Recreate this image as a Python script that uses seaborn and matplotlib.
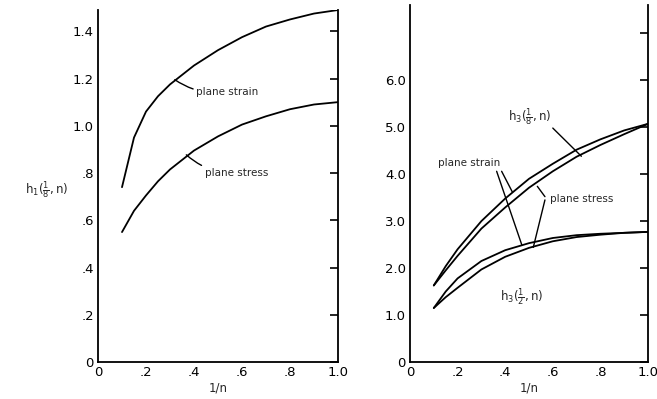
import matplotlib
matplotlib.use("Agg")
import matplotlib.pyplot as plt
import seaborn as sns
import pandas as pd

# ---- data ----
left_x = [0.1, 0.15, 0.2, 0.25, 0.3, 0.4, 0.5, 0.6, 0.7, 0.8, 0.9, 1.0]
left_plane_strain = [0.74, 0.95, 1.06, 1.125, 1.175, 1.255, 1.32, 1.375, 1.42, 1.45, 1.475, 1.49]
left_plane_stress = [0.55, 0.64, 0.705, 0.765, 0.815, 0.895, 0.955, 1.005, 1.04, 1.07, 1.09, 1.10]

right_x = [0.1, 0.15, 0.2, 0.3, 0.4, 0.5, 0.6, 0.7, 0.8, 0.9, 1.0]
h8_strain = [1.63, 2.04, 2.40, 3.00, 3.48, 3.90, 4.22, 4.52, 4.74, 4.93, 5.07]
h8_stress = [1.63, 1.95, 2.26, 2.84, 3.29, 3.71, 4.06, 4.37, 4.62, 4.85, 5.07]
h2_strain = [1.15, 1.50, 1.78, 2.15, 2.38, 2.53, 2.64, 2.70, 2.73, 2.75, 2.77]
h2_stress = [1.15, 1.38, 1.58, 1.97, 2.24, 2.43, 2.57, 2.66, 2.71, 2.75, 2.77]

x_ticks = [0, 0.2, 0.4, 0.6, 0.8, 1.0]
x_ticklabels = ["0", ".2", ".4", ".6", ".8", "1.0"]
left_y_ticks = [0, 0.2, 0.4, 0.6, 0.8, 1.0, 1.2, 1.4]
left_y_ticklabels = ["0", ".2", ".4", ".6", ".8", "1.0", "1.2", "1.4"]
right_y_ticks = [0, 1, 2, 3, 4, 5, 6, 7]
right_y_ticklabels = ["0", "1.0", "2.0", "3.0", "4.0", "5.0", "6.0", ""]

sns.set_style("white")
plt.rcParams["font.family"] = ["DejaVu Sans"]

fig = plt.figure(figsize=(6.57, 3.99), dpi=100)
ax1 = fig.add_axes([98/657, 1-362/399, 240/657, 352/399])
ax2 = fig.add_axes([410/657, 1-362/399, 238/657, 357/399])

lw = 1.3
df_left = pd.DataFrame({"x": left_x, "strain": left_plane_strain, "stress": left_plane_stress})
sns.lineplot(data=df_left, x="x", y="strain", ax=ax1, color="black", lw=lw, estimator=None, sort=False)
sns.lineplot(data=df_left, x="x", y="stress", ax=ax1, color="black", lw=lw, estimator=None, sort=False)

df_right = pd.DataFrame({"x": right_x, "a": h8_strain, "b": h8_stress, "c": h2_strain, "d": h2_stress})
for col in ["a", "b", "c", "d"]:
    sns.lineplot(data=df_right, x="x", y=col, ax=ax2, color="black", lw=lw, estimator=None, sort=False)

for ax, yt, ytl, ymax in [(ax1, left_y_ticks, left_y_ticklabels, 1.49),
                          (ax2, right_y_ticks, right_y_ticklabels, 7.6)]:
    ax.set_xlim(0, 1.0)
    ax.set_ylim(0, ymax)
    ax.set_xticks(x_ticks)
    ax.set_xticklabels(x_ticklabels)
    ax.set_yticks(yt)
    ax.set_yticklabels(ytl)
    ax.tick_params(direction="in", length=6, width=1.2, right=True, top=False,
                   labelright=False, labelsize=9.5, pad=3, colors="black")
    ax.spines["top"].set_visible(False)
    for s in ["left", "right", "bottom"]:
        ax.spines[s].set_linewidth(1.3)
        ax.spines[s].set_color("black")
    ax.set_xlabel("1/n", fontsize=8.5, labelpad=2)
    ax.set_ylabel("")

arrow = dict(arrowstyle="-", color="black", lw=1.0, shrinkA=0, shrinkB=0)
fs = 7.5
ax1.annotate("plane strain", xy=(0.32, 1.195), xytext=(0.41, 1.145), fontsize=fs,
             va="center", ha="left", arrowprops=dict(arrow, connectionstyle="arc3,rad=-0.2"))
ax1.annotate("plane stress", xy=(0.368, 0.877), xytext=(0.445, 0.80), fontsize=fs,
             va="center", ha="left", arrowprops=dict(arrow, connectionstyle="arc3,rad=-0.2"))

ax2.text(0.504, 5.21, r"$\mathsf{h_3(\frac{1}{8},n)}$", fontsize=8.5, ha="center", va="center")
ax2.annotate("", xy=(0.72, 4.38), xytext=(0.60, 4.98), arrowprops=arrow)
ax2.text(0.118, 4.24, "plane strain", fontsize=fs, ha="left", va="center")
ax2.annotate("", xy=(0.43, 3.62), xytext=(0.385, 4.06), arrowprops=arrow)
ax2.annotate("", xy=(0.47, 2.49), xytext=(0.364, 4.06), arrowprops=arrow)
ax2.text(0.59, 3.47, "plane stress", fontsize=fs, ha="left", va="center")
ax2.annotate("", xy=(0.535, 3.74), xytext=(0.567, 3.52), arrowprops=arrow)
ax2.annotate("", xy=(0.518, 2.44), xytext=(0.567, 3.45), arrowprops=arrow)
ax2.text(0.47, 1.39, r"$\mathsf{h_3(\frac{1}{2},n)}$", fontsize=8.5, ha="center", va="center")

fig.text(47/657, 1-190/399, r"$\mathsf{h_1(\frac{1}{8},n)}$", fontsize=8.5, ha="center", va="center")

fig.savefig("out.png", dpi=100)
